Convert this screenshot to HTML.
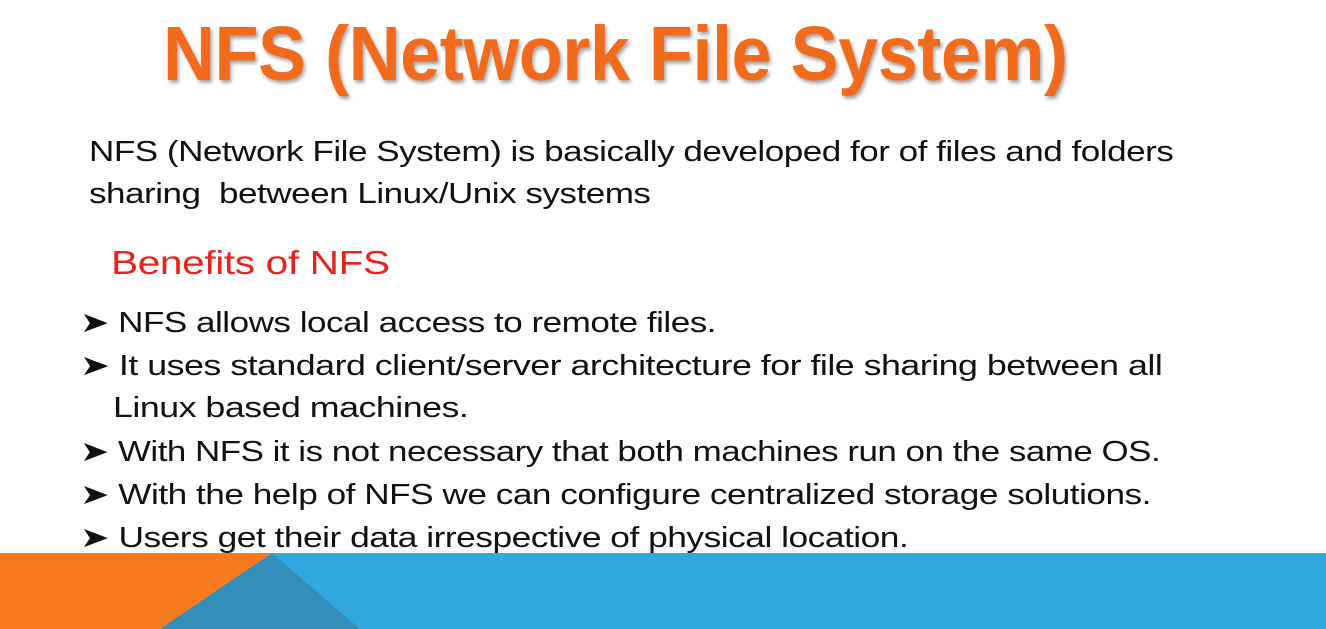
<!DOCTYPE html>
<html><head><meta charset="utf-8"><style>
body{margin:0;width:1326px;height:629px;overflow:hidden;background:#fff;position:relative;font-family:"Liberation Sans",sans-serif;}
.t{position:absolute;white-space:nowrap;color:#111;transform-origin:0 0;}
#title{left:163px;top:10px;font-size:77px;font-weight:bold;color:#f26b1d;letter-spacing:-0.5px;text-shadow:2px 3px 4px rgba(0,0,0,0.35);transform:scaleX(0.935);}
.b{font-size:28.5px;letter-spacing:-0.4px;transform:scaleX(1.23);}
</style></head><body>
<div class="t" id="title">NFS (Network File System)</div>
<div class="t b" style="left:89px;top:136px;">NFS (Network File System) is basically developed for of files and folders</div>
<div class="t b" style="left:89px;top:178px;">sharing &nbsp;between Linux/Unix systems</div>
<div class="t" style="left:111px;top:244px;font-size:33px;color:#e8231b;letter-spacing:-0.3px;transform:scaleX(1.23);">Benefits of NFS</div>
<div class="t b" style="left:80px;top:306px;transform:scaleX(1.23)">➤ NFS allows local access to remote files.</div>
<div class="t b" style="left:80px;top:349px;transform:scaleX(1.255)">➤ It uses standard client/server architecture for file sharing between all</div>
<div class="t b" style="left:113px;top:392px;transform:scaleX(1.255)">Linux based machines.</div>
<div class="t b" style="left:80px;top:435px;transform:scaleX(1.225)">➤ With NFS it is not necessary that both machines run on the same OS.</div>
<div class="t b" style="left:80px;top:478px;transform:scaleX(1.235)">➤ With the help of NFS we can configure centralized storage solutions.</div>
<div class="t b" style="left:80px;top:521px;transform:scaleX(1.24)">➤ Users get their data irrespective of physical location.</div>
<svg style="position:absolute;left:0;top:553px" width="1326" height="76">
<rect width="1326" height="76" fill="#33a8e0"/>
<polygon points="272,0 360,76 160,76" fill="#318fba"/>
<polygon points="0,0 272,0 160,76 0,76" fill="#f77a1c"/>
</svg>
</body></html>
